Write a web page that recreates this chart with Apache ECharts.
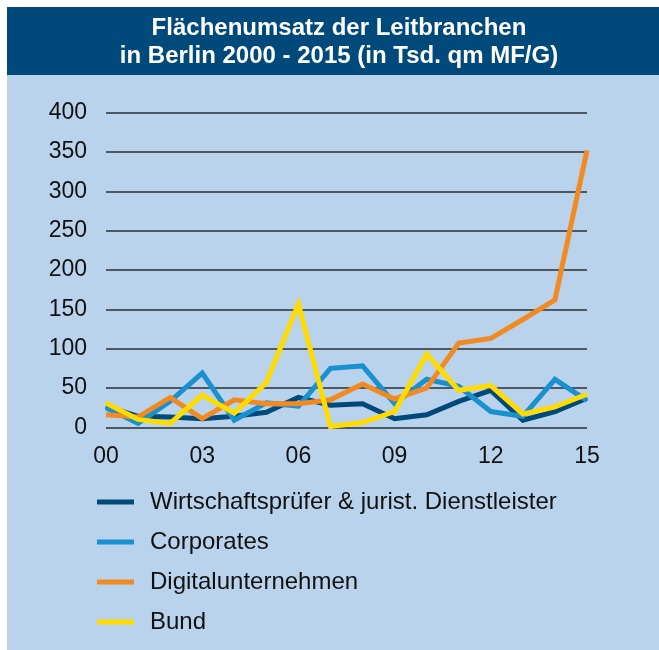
<!DOCTYPE html>
<html>
<head>
<meta charset="utf-8">
<script src="https://cdn.jsdelivr.net/npm/echarts@6/dist/echarts.min.js"></script>
<style>
html, body { margin: 0; padding: 0; background: #fff; }
#chart { width: 659px; height: 650px; }
</style>
</head>
<body>
<div id="chart"></div>
<script>
var years = ['00','01','02','03','04','05','06','07','08','09','10','11','12','13','14','15'];
var wirtschaft = [27, 14, 13, 11, 14, 19, 38, 28, 30, 11, 16, 33, 47, 9, 20, 37];
var corporates = [25, 5, 33, 69, 9, 31, 27, 75, 78, 30, 61, 52, 20, 14, 61, 34];
var digital = [16, 13, 38, 11, 35, 30, 30, 35, 55, 36, 50, 107, 113, 137, 162, 352];
var bund = [31, 10, 5, 41, 18, 57, 157, 1, 6, 20, 93, 47, 53, 17, 26, 42];

var fontFam = '"Liberation Sans", Arial, sans-serif';
var chart = echarts.init(document.getElementById('chart'));

function lineSeries(name, data, color) {
    return {
        name: name,
        type: 'line',
        data: data,
        symbol: 'none',
        lineStyle: { color: color, width: 5, join: 'miter' },
        itemStyle: { color: color }
    };
}

var option = {
    animation: false,
    textStyle: { fontFamily: fontFam },
    graphic: [
        { type: 'rect', z: -10, shape: { x: 7, y: 7, width: 652, height: 68 }, style: { fill: '#004a7b' } },
        { type: 'rect', z: -10, shape: { x: 7, y: 75, width: 652, height: 575 }, style: { fill: '#b9d3ec' } }
    ],
    title: {
        text: 'Flächenumsatz der Leitbranchen\nin Berlin 2000 - 2015 (in Tsd. qm MF/G)',
        left: 334,
        textAlign: 'center',
        top: 9,
        textStyle: {
            color: '#ffffff',
            fontSize: 24,
            fontWeight: 'bold',
            lineHeight: 28,
            fontFamily: fontFam
        }
    },
    legend: {
        orient: 'vertical',
        left: 97,
        top: 490,
        padding: 0,
        itemGap: 16,
        itemWidth: 37,
        itemHeight: 5,
        icon: 'rect',
        textStyle: {
            fontSize: 24,
            lineHeight: 24,
            color: '#111',
            padding: [0, 0, 0, 11],
            fontFamily: fontFam
        },
        data: ['Wirtschaftsprüfer & jurist. Dienstleister', 'Corporates', 'Digitalunternehmen', 'Bund']
    },
    grid: { left: 106, right: 72, top: 112.6, bottom: 222.7 },
    xAxis: {
        type: 'category',
        data: years,
        boundaryGap: false,
        axisLine: { show: false },
        axisTick: { show: false },
        axisLabel: { interval: 2, fontSize: 23, color: '#111', margin: 18, fontFamily: fontFam }
    },
    yAxis: {
        type: 'value',
        min: 0,
        max: 400,
        interval: 50,
        axisLine: { show: false },
        axisTick: { show: false },
        axisLabel: { fontSize: 23, color: '#111', margin: 19, fontFamily: fontFam },
        splitLine: { lineStyle: { color: '#2b2f36', width: 1.5 } }
    },
    series: [
        lineSeries('Wirtschaftsprüfer & jurist. Dienstleister', wirtschaft, '#004a7b'),
        lineSeries('Corporates', corporates, '#1990cf'),
        lineSeries('Digitalunternehmen', digital, '#f28a21'),
        lineSeries('Bund', bund, '#ffdb00')
    ]
};
chart.setOption(option);
</script>
</body>
</html>
